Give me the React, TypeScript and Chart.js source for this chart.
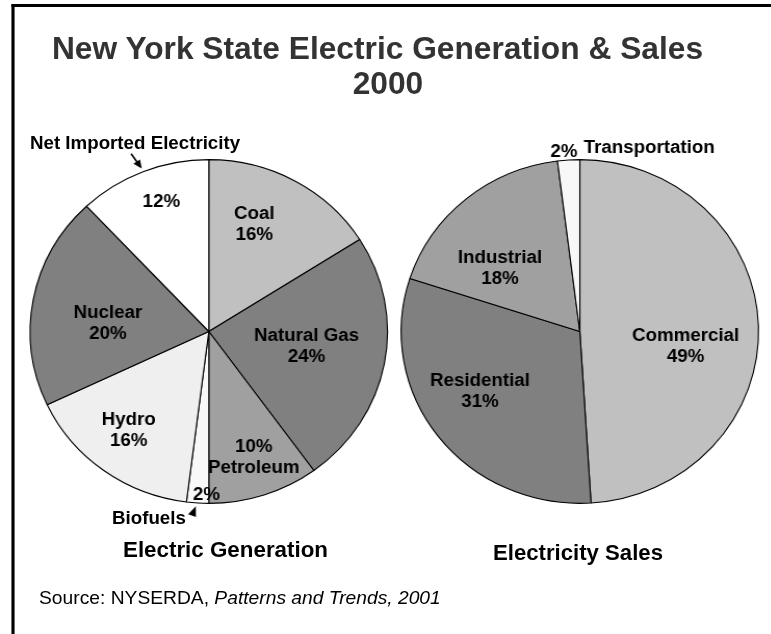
import React, { useEffect, useRef } from 'react';
import { Chart, registerables } from 'chart.js';

Chart.register(...registerables);

// ---------- data ----------
const genCategories = ['Coal', 'Natural Gas', 'Petroleum', 'Biofuels', 'Hydro', 'Nuclear', 'Net Imported Electricity'];
const genValues = [16, 24, 10, 2, 16, 20, 12];
const salesCategories = ['Commercial', 'Residential', 'Industrial', 'Transportation'];
const salesValues = [49, 31, 18, 2];

// ---------- styles ----------
const genColors = ['#c0c0c0', '#808080', '#a0a0a0', '#f8f8f8', '#efefef', '#808080', '#ffffff'];
const salesColors = ['#c0c0c0', '#808080', '#a0a0a0', '#f8f8f8'];
// label placement relative to each slice: [radius fraction, angle offset (deg)]
const genLabelPlace = [[0.67, -6.5], [0.554, -1.8], [0.776, -0.9], [0.951, -2.8], [0.73, 1.9], [0.566, -6.2], [0.80, 2.2]];
const genLabelMode = ['np', 'np', 'pn', 'p', 'np', 'np', 'p'];
const salesLabelPlace = [[0.599, 10.4], [0.66, 5.6], [0.578, -11], [1.05, -1.25]];
const salesLabelMode = ['np', 'np', 'np', 'pOut'];

const S = 1.04; // horizontal stretch of the whole picture
const W = 771 / S;
const H = 634;
const FONT = '"Liberation Sans", Arial, Helvetica, sans-serif';
const R = 172;
const BORDER = 1.1;

const sliceLabels = {
  id: 'sliceLabels',
  afterDatasetsDraw(chart: any, _args: any, opts: any) {
    const { place, mode, names, values, arrows } = opts;
    const meta = chart.getDatasetMeta(0);
    const ctx = chart.ctx as CanvasRenderingContext2D;
    ctx.save();
    ctx.fillStyle = '#000';
    ctx.strokeStyle = '#000';
    ctx.font = `bold 18px ${FONT}`;
    ctx.textAlign = 'center';
    ctx.textBaseline = 'middle';
    const gap = 21;
    meta.data.forEach((arc: any, i: number) => {
      const p = place[i];
      const { x, y, startAngle, endAngle, outerRadius } = arc.getProps(['x', 'y', 'startAngle', 'endAngle', 'outerRadius'], true);
      const mid = (startAngle + endAngle) / 2;
      const a = mid + (p[1] * Math.PI) / 180;
      const r = outerRadius * p[0];
      const cx = x + r * Math.cos(a);
      const cy = y + r * Math.sin(a);
      const pct = `${values[i]}%`;
      const m = mode[i];
      let lines: string[] = [];
      if (m === 'np') lines = [names[i], pct];
      else if (m === 'pn') lines = [pct, names[i]];
      else lines = [pct];
      lines.forEach((t, k) => ctx.fillText(t, cx, cy + (k - (lines.length - 1) / 2) * gap));
      if (m === 'pOut') {
        const w = ctx.measureText(pct).width;
        ctx.textAlign = 'left';
        ctx.fillText(names[i], cx + w / 2 + 6, cy - 3.5);
        ctx.textAlign = 'center';
      }
      const arrow = arrows && arrows[i];
      if (arrow) {
        const ta = mid + (arrow.dAngle * Math.PI) / 180;
        const tx = x + outerRadius * arrow.r * Math.cos(ta);
        const ty = y + outerRadius * arrow.r * Math.sin(ta);
        const [dx, dy] = arrow.dir;
        const len = Math.hypot(dx, dy);
        const ux = dx / len, uy = dy / len;
        if (arrow.line) {
          ctx.lineWidth = 1.6;
          ctx.beginPath();
          ctx.moveTo(tx - ux * arrow.line, ty - uy * arrow.line);
          ctx.lineTo(tx - ux * 4, ty - uy * 4);
          ctx.stroke();
        }
        const hl = arrow.head, hw = arrow.headW;
        ctx.beginPath();
        ctx.moveTo(tx, ty);
        ctx.lineTo(tx - ux * hl - uy * hw, ty - uy * hl + ux * hw);
        ctx.lineTo(tx - ux * hl + uy * hw, ty - uy * hl - ux * hw);
        ctx.closePath();
        ctx.fill();
      }
    });
    ctx.restore();
  },
};

function PieChart(props: { values: number[]; names: string[]; colors: string[]; cx: number; cy: number; place: number[][]; mode: string[]; arrows?: any }) {
  const ref = useRef<HTMLCanvasElement>(null);
  useEffect(() => {
    const size = 2 * R + BORDER;
    const left = props.cx - size / 2;
    const top = props.cy - size / 2;
    const chart = new Chart(ref.current as HTMLCanvasElement, {
      type: 'pie',
      data: {
        labels: props.names,
        datasets: [
          {
            data: props.values,
            backgroundColor: props.colors,
            borderColor: '#000',
            borderWidth: BORDER,
            hoverOffset: 0,
            offset: 0,
          } as any,
        ],
      },
      options: {
        animation: false,
        responsive: false,
        devicePixelRatio: 1,
        events: [],
        layout: { padding: { left, top, right: W - left - size, bottom: H - top - size } },
        plugins: {
          legend: { display: false },
          tooltip: { enabled: false },
          title: { display: false },
          sliceLabels: { place: props.place, mode: props.mode, names: props.names, values: props.values, arrows: props.arrows },
        } as any,
      },
      plugins: [sliceLabels],
    });
    return () => chart.destroy();
  }, []);
  return (
    <canvas
      ref={ref}
      width={W}
      height={H}
      style={{ position: 'absolute', left: 0, top: 0, width: W, height: H }}
    />
  );
}

function Txt(props: { x: number; base: number; size: number; bold?: boolean; center?: boolean; color?: string; children: any }) {
  const { x, base, size, bold = true, center = false, color = '#000' } = props;
  return (
    <div
      style={{
        position: 'absolute',
        left: x,
        top: base - 0.8465 * size,
        fontSize: size,
        lineHeight: `${size}px`,
        fontWeight: bold ? 'bold' : 'normal',
        fontFamily: FONT,
        whiteSpace: 'nowrap',
        color,
        transform: center ? 'translateX(-50%)' : undefined,
      }}
    >
      {props.children}
    </div>
  );
}

const genArrows = {
  6: { r: 1.02, dAngle: 0, dir: [9.6, 14], line: 18, head: 8.5, headW: 3.8 },
  3: { r: 1.02, dAngle: 0.5, dir: [3.5, -9], line: 0, head: 10, headW: 4 },
};

export default function App() {
  return (
    <div style={{ position: 'absolute', left: 0, top: 0, width: 771, height: 634, overflow: 'hidden', background: '#fff' }}>
      <div style={{ position: 'absolute', left: 0, top: 0, width: W, height: H, transform: `scaleX(${S})`, transformOrigin: '0 0' }}>
        <div
          style={{
            position: 'absolute',
            left: 11 / S,
            top: 4,
            width: 1000,
            height: 1000,
            borderLeft: `${4 / S}px solid #000`,
            borderTop: '3px solid #000',
          }}
        />
        <Txt x={377.5 / S} base={59} size={30.5} center color="#333">
          New York State Electric Generation &amp; Sales
        </Txt>
        <Txt x={388 / S} base={93.5} size={30.5} center color="#333">
          2000
        </Txt>
        <PieChart values={genValues} names={genCategories} colors={genColors} cx={209 / S} cy={331.5} place={genLabelPlace} mode={genLabelMode} arrows={genArrows} />
        <PieChart values={salesValues} names={salesCategories} colors={salesColors} cx={580 / S} cy={331.5} place={salesLabelPlace} mode={salesLabelMode} />
        <Txt x={30 / S} base={149} size={18}>
          {genCategories[6]}
        </Txt>
        <Txt x={112 / S} base={524} size={18}>
          {genCategories[3]}
        </Txt>
        <Txt x={225.5 / S} base={558} size={21.5} center>
          Electric Generation
        </Txt>
        <Txt x={578 / S} base={561} size={21.3} center>
          Electricity Sales
        </Txt>
        <Txt x={39 / S} base={605} size={18.5} bold={false}>
          Source: NYSERDA, <i>Patterns and Trends, 2001</i>
        </Txt>
      </div>
    </div>
  );
}
